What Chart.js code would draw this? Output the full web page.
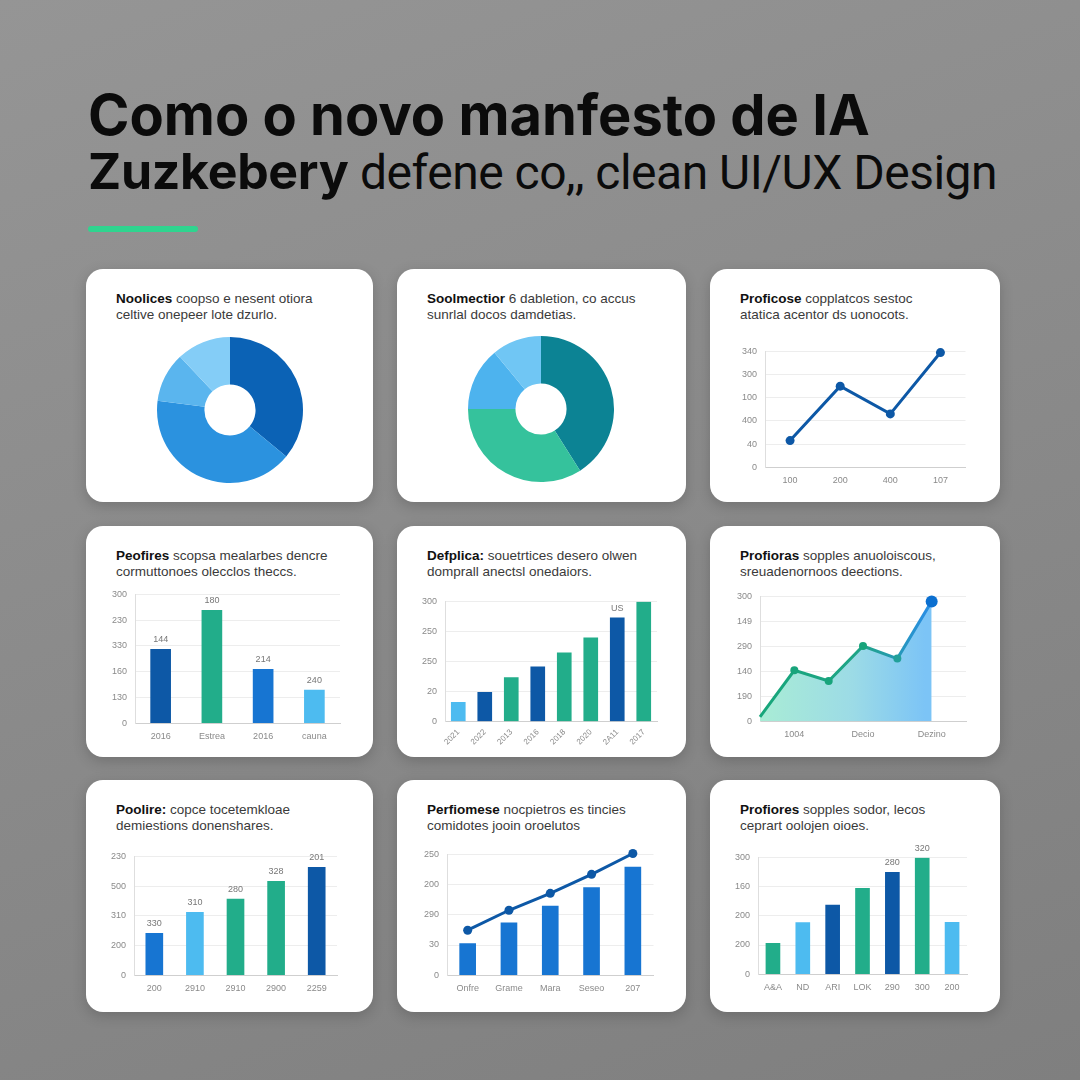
<!DOCTYPE html>
<html>
<head>
<meta charset="utf-8">
<script src="https://cdn.jsdelivr.net/npm/chart.js@4.4.1/dist/chart.umd.min.js"></script>
<style>
  html, body { margin: 0; padding: 0; }
  body {
    width: 1080px; height: 1080px; overflow: hidden; position: relative;
    background: linear-gradient(160deg, #959595 0%, #8b8b8b 45%, #7f7f7f 100%);
    font-family: 'Liberation Sans', Arial, sans-serif;
  }
  .title { position: absolute; left: 88px; color: #0b0b0b; font-family: Inter, sans-serif; white-space: nowrap; }
  .t1 { top: 81px; font-size: 56px; font-weight: 700; letter-spacing: 0px; }
  .t2 { top: 141px; font-size: 50px; font-weight: 700; letter-spacing: -0.3px; }
  .t2 span { font-size: 48px; font-weight: 400; font-family: Roboto, sans-serif; letter-spacing: -0.5px; }
  .accent { position: absolute; left: 88px; top: 226px; width: 110px; height: 6px; border-radius: 3px; background: #2fd48f; }
  .card {
    position: absolute; background: #fff; border-radius: 17px;
    box-shadow: 0 4px 14px rgba(0,0,0,0.18);
  }
  .card .txt {
    position: absolute; left: 30px; top: 22px; font-size: 13.5px; line-height: 16px;
    color: #3a3a3a; white-space: nowrap;
  }
  .card .txt b { color: #111; }
  .card canvas { position: absolute; }
</style>
</head>
<body>
<div class="title t1">Como o novo manfesto de IA</div>
<div class="title t2">Zuzkebery <span>defene co,, clean UI/UX Design</span></div>
<div class="accent"></div>
<div id="cards"></div>
<script>
// ---- card texts
const cardBold = ['Noolices', 'Soolmectior', 'Proficose', 'Peofires', 'Defplica:', 'Profioras', 'Poolire:', 'Perfiomese', 'Profiores']
const cardRest = [
  'coopso e nesent otiora', '6 dabletion, co accus', 'copplatcos sestoc',
  'scopsa mealarbes dencre', 'souetrtices desero olwen', 'sopples anuoloiscous,',
  'copce tocetemkloae', 'nocpietros es tincies', 'sopples sodor, lecos'
]
const cardLine2 = [
  'celtive onepeer lote dzurlo.', 'sunrlal docos damdetias.', 'atatica acentor ds uonocots.',
  'cormuttonoes olecclos theccs.', 'domprall anectsl onedaiors.', 'sreuadenornoos deections.',
  'demiestions donenshares.', 'comidotes jooin oroelutos', 'ceprart oolojen oioes.'
]

// ---- card 1 & 2: doughnuts
const donut1Values = [36, 41, 11, 12]
const donut2Values = [41, 34, 14, 11]

// ---- card 3: line
const line3Labels = ['100', '200', '400', '107']
const line3Values = [1.15, 3.5, 2.3, 4.95]
const line3Ticks = ['0', '40', '400', '100', '300', '340']

// ---- card 4: bars
const bar4Labels = ['2016', 'Estrea', '2016', 'cauna']
const bar4Values = [2.87, 4.38, 2.09, 1.29]
const bar4Tops = ['144', '180', '214', '240']
const bar4Ticks = ['0', '130', '160', '330', '230', '300']

// ---- card 5: rising bars
const bar5Labels = ['2021', '2022', '2013', '2016', '2018', '2020', '2A11', '2017']
const bar5Values = [0.64, 0.97, 1.46, 1.82, 2.29, 2.79, 3.45, 3.98]
const bar5Tops = ['', '', '', '', '', '', 'US', '']
const bar5Ticks = ['0', '20', '250', '250', '300']

// ---- card 6: area
const area6Labels = ['', '1004', '', 'Decio', '', 'Dezino', '']
const area6Values = [0.17, 2.04, 1.61, 3.01, 2.51, 4.8, null]
const area6Ticks = ['0', '190', '140', '290', '149', '300']

// ---- card 7: bars
const bar7Labels = ['200', '2910', '2910', '2900', '2259']
const bar7Values = [1.41, 2.12, 2.56, 3.16, 3.63]
const bar7Tops = ['330', '310', '280', '328', '201']
const bar7Ticks = ['0', '200', '310', '500', '230']

// ---- card 8: bars + line
const combo8Labels = ['Onfre', 'Grame', 'Mara', 'Seseo', '207']
const combo8Bars = [1.05, 1.73, 2.29, 2.9, 3.58]
const combo8Line = [1.49, 2.15, 2.71, 3.34, 4.03]
const combo8Ticks = ['0', '30', '290', '200', '250']

// ---- card 9: bars
const bar9Labels = ['A&A', 'ND', 'ARI', 'LOK', '290', '300', '200']
const bar9Values = [1.06, 1.77, 2.37, 2.94, 3.49, 3.98, 1.78]
const bar9Tops = ['', '', '', '', '280', '320', '']
const bar9Ticks = ['0', '200', '200', '160', '300']

// colours
const DARK = '#0d58a6'
const BLUE = '#1775d2'
const LIGHT = '#4dbbf0'
const GREEN = '#22ad8a'

// card boxes [left, top, width, height]
const cardBoxes = [
  [86, 269, 287, 233], [397, 269, 289, 233], [710, 269, 290, 233],
  [86, 526, 287, 231], [397, 526, 289, 231], [710, 526, 290, 231],
  [86, 780, 287, 232], [397, 780, 289, 232], [710, 780, 290, 232]
]
// canvas boxes inside each card
const canvasBoxes = [
  [70, 67, 148, 148], [70, 66, 148, 148], [24, 69, 236, 156],
  [18, 55, 240, 169], [17, 62, 247, 165], [19, 57, 245, 165],
  [17, 63, 238, 159], [19, 61, 242, 161], [17, 64, 244, 157]
]

const holder = document.getElementById('cards')
const ctxs = cardBoxes.map((b, i) => {
  const card = document.createElement('div')
  card.className = 'card'
  card.style.left = b[0] + 'px'
  card.style.top = b[1] + 'px'
  card.style.width = b[2] + 'px'
  card.style.height = b[3] + 'px'
  const txt = document.createElement('div')
  txt.className = 'txt'
  txt.innerHTML = '<b>' + cardBold[i] + '</b> ' + cardRest[i] + '<br>' + cardLine2[i]
  card.appendChild(txt)
  const c = canvasBoxes[i]
  const cv = document.createElement('canvas')
  cv.style.left = c[0] + 'px'
  cv.style.top = c[1] + 'px'
  cv.style.width = c[2] + 'px'
  cv.style.height = c[3] + 'px'
  cv.width = c[2]
  cv.height = c[3]
  card.appendChild(cv)
  holder.appendChild(card)
  return cv.getContext('2d')
})

Chart.defaults.animation = false
Chart.defaults.responsive = false
Chart.defaults.font.family = "'Liberation Sans', Arial, sans-serif"
Chart.defaults.plugins.legend.display = false
Chart.defaults.plugins.tooltip.enabled = false

// draws small value labels above bars
const topLabels = {
  id: 'topLabels',
  afterDatasetsDraw(chart, args, opts) {
    if (!opts.labels) return
    const meta = chart.getDatasetMeta(0)
    const ctx = chart.ctx
    ctx.save()
    ctx.font = '9px ' + Chart.defaults.font.family
    ctx.fillStyle = '#777'
    ctx.textAlign = 'center'
    ctx.textBaseline = 'bottom'
    meta.data.forEach((bar, i) => {
      if (opts.labels[i]) ctx.fillText(opts.labels[i], bar.x, bar.y - 5)
    })
    ctx.restore()
  }
}
Chart.register(topLabels)

function cartesian(max, ticks, xOpts) {
  return {
    responsive: false,
    layout: { padding: { top: 4, right: 4 } },
    scales: {
      x: Object.assign({
        grid: { display: false, drawTicks: false },
        border: { color: '#cfcfcf' },
        ticks: { color: '#8a8a8a', font: { size: 9 }, padding: 8, autoSkip: false, maxRotation: 0 }
      }, xOpts || {}),
      y: {
        min: 0, max: max,
        grid: { color: '#ededed', drawTicks: false },
        border: { color: '#dedede' },
        ticks: {
          stepSize: 1, color: '#8a8a8a', font: { size: 9 }, padding: 8,
          callback: (v, i) => ticks[i]
        }
      }
    }
  }
}

function donut(ctx, values, colors) {
  new Chart(ctx, {
    type: 'doughnut',
    data: { labels: values.map((v, i) => 'S' + (i + 1)), datasets: [{ data: values, backgroundColor: colors, borderWidth: 0 }] },
    options: { cutout: '35%', layout: { padding: 1 } }
  })
}

donut(ctxs[0], donut1Values, ['#0b62b5', '#2b92df', '#5ab5ee', '#84cdf7'])
donut(ctxs[1], donut2Values, ['#0c8394', '#35c29c', '#4db3ee', '#70c6f4'])

// card 3
new Chart(ctxs[2], {
  type: 'line',
  data: {
    labels: line3Labels,
    datasets: [{
      data: line3Values, borderColor: DARK, borderWidth: 3, tension: 0, clip: false,
      pointRadius: 4.5, pointBackgroundColor: DARK, pointBorderWidth: 0
    }]
  },
  options: cartesian(5, line3Ticks, { offset: true })
})

// card 4
new Chart(ctxs[3], {
  type: 'bar',
  data: { labels: bar4Labels, datasets: [{ data: bar4Values, backgroundColor: [DARK, GREEN, BLUE, LIGHT], barThickness: 20 }] },
  options: Object.assign(cartesian(5, bar4Ticks), { plugins: { topLabels: { labels: bar4Tops } } })
})

// card 5
new Chart(ctxs[4], {
  type: 'bar',
  data: {
    labels: bar5Labels,
    datasets: [{ data: bar5Values, backgroundColor: [LIGHT, DARK, GREEN, DARK, GREEN, GREEN, DARK, GREEN], barThickness: 14 }]
  },
  options: Object.assign(cartesian(4, bar5Ticks, {
    ticks: { color: '#8a8a8a', font: { size: 8 }, padding: 6, autoSkip: false, minRotation: 45, maxRotation: 45 }
  }), { plugins: { topLabels: { labels: bar5Tops } } })
})

// card 6
new Chart(ctxs[5], {
  type: 'line',
  data: {
    labels: area6Labels,
    datasets: [{
      data: area6Values, tension: 0, borderWidth: 3, fill: 'origin', clip: false,
      borderColor: (c) => {
        const a = c.chart.chartArea
        if (!a) return '#1aa67c'
        const g = c.chart.ctx.createLinearGradient(a.left, 0, a.right, 0)
        g.addColorStop(0, '#17a67a')
        g.addColorStop(0.5, '#1fa487')
        g.addColorStop(0.8, '#2a8fe0')
        return g
      },
      backgroundColor: (c) => {
        const a = c.chart.chartArea
        if (!a) return '#a6e6d8'
        const g = c.chart.ctx.createLinearGradient(a.left, 0, a.right, 0)
        g.addColorStop(0, '#a9ecd5')
        g.addColorStop(0.45, '#9cdbe6')
        g.addColorStop(0.8, '#7cc4f6')
        return g
      },
      pointRadius: [0, 4, 4, 4, 4, 6, 0],
      pointBackgroundColor: ['#18a47b', '#18a47b', '#18a47b', '#18a47b', '#22a09a', '#0b6fd0', '#0b6fd0'],
      pointBorderWidth: 0
    }]
  },
  options: cartesian(5, area6Ticks, { offset: false })
})

// card 7
new Chart(ctxs[6], {
  type: 'bar',
  data: { labels: bar7Labels, datasets: [{ data: bar7Values, backgroundColor: [BLUE, LIGHT, GREEN, GREEN, DARK], barThickness: 17 }] },
  options: Object.assign(cartesian(4, bar7Ticks), { plugins: { topLabels: { labels: bar7Tops } } })
})

// card 8
new Chart(ctxs[7], {
  data: {
    labels: combo8Labels,
    datasets: [
      { type: 'line', data: combo8Line, borderColor: DARK, borderWidth: 3, tension: 0, pointRadius: 4.5, pointBackgroundColor: DARK, pointBorderWidth: 0, clip: false, order: 0 },
      { type: 'bar', data: combo8Bars, backgroundColor: BLUE, barThickness: 16, order: 1 }
    ]
  },
  options: cartesian(4, combo8Ticks)
})

// card 9
new Chart(ctxs[8], {
  type: 'bar',
  data: { labels: bar9Labels, datasets: [{ data: bar9Values, backgroundColor: [GREEN, LIGHT, DARK, GREEN, DARK, GREEN, LIGHT], barThickness: 14 }] },
  options: Object.assign(cartesian(4, bar9Ticks), { plugins: { topLabels: { labels: bar9Tops } } })
})
</script>
</body>
</html>
